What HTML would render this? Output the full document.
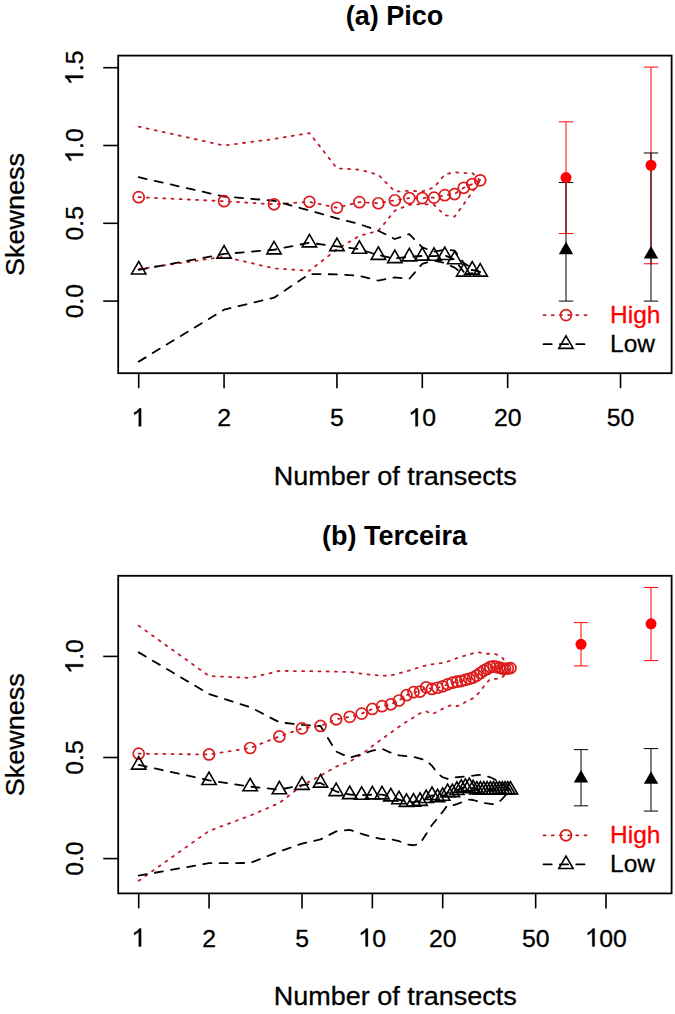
<!DOCTYPE html>
<html><head><meta charset="utf-8"><style>
html,body{margin:0;padding:0;background:#fff;}
body{width:675px;height:1014px;overflow:hidden;}
svg{display:block;}
text{font-family:"Liberation Sans",sans-serif;fill:#000;}
.tk{font-size:24.8px;stroke:#000;stroke-width:0.3px;}
.lab{font-size:27px;stroke:#000;stroke-width:0.3px;}
.ttl{font-size:27px;font-weight:bold;}
.leg{font-size:24.5px;stroke:#000;stroke-width:0.3px;}
</style></head><body>
<svg width="675" height="1014" viewBox="0 0 675 1014">
<rect width="675" height="1014" fill="#fff"/>
<rect x="118.2" y="55.6" width="553.4" height="317.59999999999997" fill="none" stroke="#000" stroke-width="1.8"/>
<line x1="138.70" y1="373.2" x2="138.70" y2="388.2" stroke="#000" stroke-width="1.6"/>
<g transform="translate(138.70 426.30)"><path transform="translate(-6.89 0) scale(24.8)" d="M0.377 0 L0.377 -0.724 L0.300 -0.724 Q0.245 -0.615 0.094 -0.558 L0.094 -0.462 Q0.215 -0.505 0.279 -0.59 L0.279 0 Z" fill="#000" stroke="#000" stroke-width="0.0121"/></g>
<line x1="224.07" y1="373.2" x2="224.07" y2="388.2" stroke="#000" stroke-width="1.6"/>
<g transform="translate(224.07 426.30)"><text x="-6.89" y="0" class="tk">2</text></g>
<line x1="336.93" y1="373.2" x2="336.93" y2="388.2" stroke="#000" stroke-width="1.6"/>
<g transform="translate(336.93 426.30)"><text x="-6.89" y="0" class="tk">5</text></g>
<line x1="422.30" y1="373.2" x2="422.30" y2="388.2" stroke="#000" stroke-width="1.6"/>
<g transform="translate(422.30 426.30)"><path transform="translate(-13.79 0) scale(24.8)" d="M0.377 0 L0.377 -0.724 L0.300 -0.724 Q0.245 -0.615 0.094 -0.558 L0.094 -0.462 Q0.215 -0.505 0.279 -0.59 L0.279 0 Z" fill="#000" stroke="#000" stroke-width="0.0121"/><text x="0.00" y="0" class="tk">0</text></g>
<line x1="507.67" y1="373.2" x2="507.67" y2="388.2" stroke="#000" stroke-width="1.6"/>
<g transform="translate(507.67 426.30)"><text x="-13.79" y="0" class="tk">2</text><text x="0.00" y="0" class="tk">0</text></g>
<line x1="620.53" y1="373.2" x2="620.53" y2="388.2" stroke="#000" stroke-width="1.6"/>
<g transform="translate(620.53 426.30)"><text x="-13.79" y="0" class="tk">5</text><text x="0.00" y="0" class="tk">0</text></g>
<line x1="118.2" y1="301.10" x2="103.2" y2="301.10" stroke="#000" stroke-width="1.6"/>
<g transform="translate(83.20 301.10) rotate(-90)"><text x="-17.24" y="0" class="tk">0</text><text x="-3.45" y="0" class="tk">.</text><text x="3.45" y="0" class="tk">0</text></g>
<line x1="118.2" y1="223.30" x2="103.2" y2="223.30" stroke="#000" stroke-width="1.6"/>
<g transform="translate(83.20 223.30) rotate(-90)"><text x="-17.24" y="0" class="tk">0</text><text x="-3.45" y="0" class="tk">.</text><text x="3.45" y="0" class="tk">5</text></g>
<line x1="118.2" y1="145.50" x2="103.2" y2="145.50" stroke="#000" stroke-width="1.6"/>
<g transform="translate(83.20 145.50) rotate(-90)"><path transform="translate(-17.24 0) scale(24.8)" d="M0.377 0 L0.377 -0.724 L0.300 -0.724 Q0.245 -0.615 0.094 -0.558 L0.094 -0.462 Q0.215 -0.505 0.279 -0.59 L0.279 0 Z" fill="#000" stroke="#000" stroke-width="0.0121"/><text x="-3.45" y="0" class="tk">.</text><text x="3.45" y="0" class="tk">0</text></g>
<line x1="118.2" y1="67.70" x2="103.2" y2="67.70" stroke="#000" stroke-width="1.6"/>
<g transform="translate(83.20 67.70) rotate(-90)"><path transform="translate(-17.24 0) scale(24.8)" d="M0.377 0 L0.377 -0.724 L0.300 -0.724 Q0.245 -0.615 0.094 -0.558 L0.094 -0.462 Q0.215 -0.505 0.279 -0.59 L0.279 0 Z" fill="#000" stroke="#000" stroke-width="0.0121"/><text x="-3.45" y="0" class="tk">.</text><text x="3.45" y="0" class="tk">5</text></g>
<text transform="translate(395.3 484.7) scale(1 0.95)" text-anchor="middle" class="lab">Number of transects</text>
<text transform="translate(24.2 214.60) rotate(-90) scale(1 0.96)" text-anchor="middle" class="lab">Skewness</text>
<text x="394.6" y="24.8" text-anchor="middle" class="ttl">(a) Pico</text>
<path d="M138.70 126.67 L224.07 145.50 L274.01 138.96 L309.44 133.05 L336.93 168.37 L359.38 169.62 L378.37 174.75 L394.82 191.56 L409.32 190.78 L422.30 191.40 L434.04 187.51 L444.76 174.44 L454.61 172.26 L463.74 173.04 L472.24 173.04 L480.19 180.35" fill="none" stroke="#c21a2a" stroke-width="1.8" stroke-dasharray="2.05 6.15" stroke-linejoin="round" stroke-linecap="round"/>
<path d="M138.70 269.05 L224.07 256.75 L274.01 268.42 L309.44 270.76 L336.93 249.29 L359.38 235.90 L378.37 230.77 L394.82 210.70 L409.32 204.78 L422.30 204.01 L434.04 204.78 L444.76 215.21 L454.61 216.61 L463.74 204.16 L472.24 192.18 L480.19 180.35" fill="none" stroke="#c21a2a" stroke-width="1.8" stroke-dasharray="2.05 6.15" stroke-linejoin="round" stroke-linecap="round"/>
<path d="M138.70 197.16 L224.07 201.20 L274.01 204.32 L309.44 201.83 L336.93 207.74 L359.38 202.14 L378.37 203.23 L394.82 200.27 L409.32 198.09 L422.30 198.09 L434.04 197.63 L444.76 195.14 L454.61 194.05 L463.74 187.82 L472.24 184.09 L480.19 180.35" fill="none" stroke="#c21a2a" stroke-width="1.8" stroke-dasharray="2.05 6.15" stroke-linejoin="round" stroke-linecap="round"/>
<path d="M138.70 177.24 L224.07 196.54 L274.01 200.74 L309.44 210.54 L336.93 218.32 L359.38 224.08 L378.37 230.77 L394.82 239.02 L409.32 234.04 L422.30 247.42 L434.04 251.62 L444.76 249.75 L454.61 250.53 L463.74 262.98 L472.24 268.42 L480.19 272.00" fill="none" stroke="#000" stroke-width="1.8" stroke-dasharray="8.2 8.2" stroke-linejoin="round" stroke-linecap="round"/>
<path d="M138.70 361.63 L224.07 309.66 L274.01 297.68 L309.44 274.03 L336.93 274.34 L359.38 275.89 L378.37 280.56 L394.82 277.45 L409.32 278.85 L422.30 263.76 L434.04 260.64 L444.76 262.98 L454.61 267.65 L463.74 274.65 L472.24 273.09 L480.19 272.00" fill="none" stroke="#000" stroke-width="1.8" stroke-dasharray="8.2 8.2" stroke-linejoin="round" stroke-linecap="round"/>
<path d="M138.70 269.82 L224.07 253.95 L274.01 249.75 L309.44 242.75 L336.93 246.48 L359.38 249.13 L378.37 255.20 L394.82 258.47 L409.32 256.75 L422.30 255.98 L434.04 256.13 L444.76 255.35 L454.61 259.55 L463.74 272.00 L472.24 269.98 L480.19 272.00" fill="none" stroke="#000" stroke-width="1.8" stroke-dasharray="8.2 8.2" stroke-linejoin="round" stroke-linecap="round"/>
<circle cx="138.70" cy="197.16" r="5.5" fill="none" stroke="#dc1c1c" stroke-width="1.7"/>
<circle cx="224.07" cy="201.20" r="5.5" fill="none" stroke="#dc1c1c" stroke-width="1.7"/>
<circle cx="274.01" cy="204.32" r="5.5" fill="none" stroke="#dc1c1c" stroke-width="1.7"/>
<circle cx="309.44" cy="201.83" r="5.5" fill="none" stroke="#dc1c1c" stroke-width="1.7"/>
<circle cx="336.93" cy="207.74" r="5.5" fill="none" stroke="#dc1c1c" stroke-width="1.7"/>
<circle cx="359.38" cy="202.14" r="5.5" fill="none" stroke="#dc1c1c" stroke-width="1.7"/>
<circle cx="378.37" cy="203.23" r="5.5" fill="none" stroke="#dc1c1c" stroke-width="1.7"/>
<circle cx="394.82" cy="200.27" r="5.5" fill="none" stroke="#dc1c1c" stroke-width="1.7"/>
<circle cx="409.32" cy="198.09" r="5.5" fill="none" stroke="#dc1c1c" stroke-width="1.7"/>
<circle cx="422.30" cy="198.09" r="5.5" fill="none" stroke="#dc1c1c" stroke-width="1.7"/>
<circle cx="434.04" cy="197.63" r="5.5" fill="none" stroke="#dc1c1c" stroke-width="1.7"/>
<circle cx="444.76" cy="195.14" r="5.5" fill="none" stroke="#dc1c1c" stroke-width="1.7"/>
<circle cx="454.61" cy="194.05" r="5.5" fill="none" stroke="#dc1c1c" stroke-width="1.7"/>
<circle cx="463.74" cy="187.82" r="5.5" fill="none" stroke="#dc1c1c" stroke-width="1.7"/>
<circle cx="472.24" cy="184.09" r="5.5" fill="none" stroke="#dc1c1c" stroke-width="1.7"/>
<circle cx="480.19" cy="180.35" r="5.5" fill="none" stroke="#dc1c1c" stroke-width="1.7"/>
<polygon points="138.70,261.52 145.89,273.97 131.51,273.97" fill="none" stroke="#000" stroke-width="1.6" stroke-linejoin="miter"/>
<polygon points="224.07,245.65 231.26,258.10 216.88,258.10" fill="none" stroke="#000" stroke-width="1.6" stroke-linejoin="miter"/>
<polygon points="274.01,241.45 281.20,253.90 266.82,253.90" fill="none" stroke="#000" stroke-width="1.6" stroke-linejoin="miter"/>
<polygon points="309.44,234.45 316.63,246.90 302.26,246.90" fill="none" stroke="#000" stroke-width="1.6" stroke-linejoin="miter"/>
<polygon points="336.93,238.18 344.12,250.63 329.74,250.63" fill="none" stroke="#000" stroke-width="1.6" stroke-linejoin="miter"/>
<polygon points="359.38,240.83 366.57,253.28 352.20,253.28" fill="none" stroke="#000" stroke-width="1.6" stroke-linejoin="miter"/>
<polygon points="378.37,246.90 385.56,259.35 371.18,259.35" fill="none" stroke="#000" stroke-width="1.6" stroke-linejoin="miter"/>
<polygon points="394.82,250.17 402.00,262.62 387.63,262.62" fill="none" stroke="#000" stroke-width="1.6" stroke-linejoin="miter"/>
<polygon points="409.32,248.45 416.51,260.90 402.14,260.90" fill="none" stroke="#000" stroke-width="1.6" stroke-linejoin="miter"/>
<polygon points="422.30,247.68 429.49,260.13 415.11,260.13" fill="none" stroke="#000" stroke-width="1.6" stroke-linejoin="miter"/>
<polygon points="434.04,247.83 441.23,260.28 426.85,260.28" fill="none" stroke="#000" stroke-width="1.6" stroke-linejoin="miter"/>
<polygon points="444.76,247.05 451.94,259.50 437.57,259.50" fill="none" stroke="#000" stroke-width="1.6" stroke-linejoin="miter"/>
<polygon points="454.61,251.25 461.80,263.70 447.43,263.70" fill="none" stroke="#000" stroke-width="1.6" stroke-linejoin="miter"/>
<polygon points="463.74,263.70 470.93,276.15 456.55,276.15" fill="none" stroke="#000" stroke-width="1.6" stroke-linejoin="miter"/>
<polygon points="472.24,261.68 479.43,274.13 465.05,274.13" fill="none" stroke="#000" stroke-width="1.6" stroke-linejoin="miter"/>
<polygon points="480.19,263.70 487.38,276.15 473.00,276.15" fill="none" stroke="#000" stroke-width="1.6" stroke-linejoin="miter"/>
<path d="M566.00 121.85 L566.00 233.57 M558.80 121.85 L573.20 121.85 M558.80 233.57 L573.20 233.57" stroke="#ff0000" stroke-width="1.0" fill="none"/>
<path d="M566.00 182.53 L566.00 301.10 M558.80 182.53 L573.20 182.53 M558.80 301.10 L573.20 301.10" stroke="#000" stroke-width="1.0" fill="none"/>
<circle cx="566.00" cy="177.55" r="5.5" fill="#ff0000"/>
<polygon points="566.00,241.76 573.19,254.21 558.81,254.21" fill="#000"/>
<path d="M651.00 67.08 L651.00 263.76 M643.80 67.08 L658.20 67.08 M643.80 263.76 L658.20 263.76" stroke="#ff0000" stroke-width="1.0" fill="none"/>
<path d="M651.00 152.97 L651.00 301.10 M643.80 152.97 L658.20 152.97 M643.80 301.10 L658.20 301.10" stroke="#000" stroke-width="1.0" fill="none"/>
<circle cx="651.00" cy="165.26" r="5.5" fill="#ff0000"/>
<polygon points="651.00,246.12 658.19,258.57 643.81,258.57" fill="#000"/>
<rect x="118.2" y="575.8000000000001" width="553.4" height="317.59999999999997" fill="none" stroke="#000" stroke-width="1.8"/>
<line x1="138.70" y1="893.4000000000001" x2="138.70" y2="908.4000000000001" stroke="#000" stroke-width="1.6"/>
<g transform="translate(138.70 946.50)"><path transform="translate(-6.89 0) scale(24.8)" d="M0.377 0 L0.377 -0.724 L0.300 -0.724 Q0.245 -0.615 0.094 -0.558 L0.094 -0.462 Q0.215 -0.505 0.279 -0.59 L0.279 0 Z" fill="#000" stroke="#000" stroke-width="0.0121"/></g>
<line x1="209.04" y1="893.4000000000001" x2="209.04" y2="908.4000000000001" stroke="#000" stroke-width="1.6"/>
<g transform="translate(209.04 946.50)"><text x="-6.89" y="0" class="tk">2</text></g>
<line x1="302.01" y1="893.4000000000001" x2="302.01" y2="908.4000000000001" stroke="#000" stroke-width="1.6"/>
<g transform="translate(302.01 946.50)"><text x="-6.89" y="0" class="tk">5</text></g>
<line x1="372.35" y1="893.4000000000001" x2="372.35" y2="908.4000000000001" stroke="#000" stroke-width="1.6"/>
<g transform="translate(372.35 946.50)"><path transform="translate(-13.79 0) scale(24.8)" d="M0.377 0 L0.377 -0.724 L0.300 -0.724 Q0.245 -0.615 0.094 -0.558 L0.094 -0.462 Q0.215 -0.505 0.279 -0.59 L0.279 0 Z" fill="#000" stroke="#000" stroke-width="0.0121"/><text x="0.00" y="0" class="tk">0</text></g>
<line x1="442.69" y1="893.4000000000001" x2="442.69" y2="908.4000000000001" stroke="#000" stroke-width="1.6"/>
<g transform="translate(442.69 946.50)"><text x="-13.79" y="0" class="tk">2</text><text x="0.00" y="0" class="tk">0</text></g>
<line x1="535.66" y1="893.4000000000001" x2="535.66" y2="908.4000000000001" stroke="#000" stroke-width="1.6"/>
<g transform="translate(535.66 946.50)"><text x="-13.79" y="0" class="tk">5</text><text x="0.00" y="0" class="tk">0</text></g>
<line x1="606.00" y1="893.4000000000001" x2="606.00" y2="908.4000000000001" stroke="#000" stroke-width="1.6"/>
<g transform="translate(606.00 946.50)"><path transform="translate(-20.68 0) scale(24.8)" d="M0.377 0 L0.377 -0.724 L0.300 -0.724 Q0.245 -0.615 0.094 -0.558 L0.094 -0.462 Q0.215 -0.505 0.279 -0.59 L0.279 0 Z" fill="#000" stroke="#000" stroke-width="0.0121"/><text x="-6.89" y="0" class="tk">0</text><text x="6.89" y="0" class="tk">0</text></g>
<line x1="118.2" y1="858.60" x2="103.2" y2="858.60" stroke="#000" stroke-width="1.6"/>
<g transform="translate(83.20 858.60) rotate(-90)"><text x="-17.24" y="0" class="tk">0</text><text x="-3.45" y="0" class="tk">.</text><text x="3.45" y="0" class="tk">0</text></g>
<line x1="118.2" y1="757.50" x2="103.2" y2="757.50" stroke="#000" stroke-width="1.6"/>
<g transform="translate(83.20 757.50) rotate(-90)"><text x="-17.24" y="0" class="tk">0</text><text x="-3.45" y="0" class="tk">.</text><text x="3.45" y="0" class="tk">5</text></g>
<line x1="118.2" y1="656.40" x2="103.2" y2="656.40" stroke="#000" stroke-width="1.6"/>
<g transform="translate(83.20 656.40) rotate(-90)"><path transform="translate(-17.24 0) scale(24.8)" d="M0.377 0 L0.377 -0.724 L0.300 -0.724 Q0.245 -0.615 0.094 -0.558 L0.094 -0.462 Q0.215 -0.505 0.279 -0.59 L0.279 0 Z" fill="#000" stroke="#000" stroke-width="0.0121"/><text x="-3.45" y="0" class="tk">.</text><text x="3.45" y="0" class="tk">0</text></g>
<text transform="translate(395.3 1004.9000000000001) scale(1 0.95)" text-anchor="middle" class="lab">Number of transects</text>
<text transform="translate(24.2 734.80) rotate(-90) scale(1 0.96)" text-anchor="middle" class="lab">Skewness</text>
<text x="394.6" y="545.0" text-anchor="middle" class="ttl">(b) Terceira</text>
<path d="M138.70 625.67 L209.04 676.03 L250.18 677.92 L279.37 670.91 L302.01 671.10 L320.52 671.36 L336.16 671.60 L349.71 672.02 L361.66 673.60 L372.35 674.93 L382.02 675.71 L390.85 675.55 L398.97 673.33 L406.49 671.27 L413.49 669.16 L420.04 667.18 L426.19 665.32 L431.99 664.31 L437.48 663.58 L442.69 662.88 L447.64 661.48 L452.36 659.81 L456.87 658.20 L461.19 656.79 L465.33 655.57 L469.31 654.40 L473.14 653.26 L476.83 652.17 L480.39 652.70 L483.83 653.24 L487.16 653.76 L490.38 653.77 L493.50 653.77 L496.53 654.39 L499.47 656.02 L502.33 657.83 L505.11 661.33 L507.82 664.74 L510.45 668.07" fill="none" stroke="#c21a2a" stroke-width="1.8" stroke-dasharray="2.05 6.15" stroke-linejoin="round" stroke-linecap="round"/>
<path d="M138.70 880.84 L209.04 830.90 L250.18 815.66 L279.37 802.98 L302.01 785.40 L320.52 775.69 L336.16 766.62 L349.71 761.73 L361.66 754.19 L372.35 746.05 L382.02 738.94 L390.85 732.63 L398.97 726.82 L406.49 721.85 L413.49 717.42 L420.04 713.27 L426.19 711.36 L431.99 714.10 L437.48 711.78 L442.69 708.74 L447.64 706.32 L452.36 704.90 L456.87 706.12 L461.19 705.11 L465.33 701.98 L469.31 700.22 L473.14 698.20 L476.83 694.87 L480.39 691.32 L483.83 686.21 L487.16 682.29 L490.38 678.84 L493.50 678.84 L496.53 678.84 L499.47 678.14 L502.33 677.06 L505.11 674.67 L507.82 671.38 L510.45 668.19" fill="none" stroke="#c21a2a" stroke-width="1.8" stroke-dasharray="2.05 6.15" stroke-linejoin="round" stroke-linecap="round"/>
<path d="M138.70 753.66 L209.04 754.47 L250.18 748.00 L279.37 736.47 L302.01 728.38 L320.52 725.96 L336.16 719.28 L349.71 716.86 L361.66 713.62 L372.35 708.97 L382.02 706.14 L390.85 704.32 L398.97 700.48 L406.49 695.22 L413.49 692.19 L420.04 691.58 L426.19 687.34 L431.99 688.95 L437.48 687.74 L442.69 686.33 L447.64 684.30 L452.36 682.69 L456.87 681.68 L461.19 681.07 L465.33 679.86 L469.31 678.84 L473.14 677.63 L476.83 675.61 L480.39 672.98 L483.83 670.55 L487.16 668.94 L490.38 666.91 L493.50 666.31 L496.53 666.91 L499.47 667.72 L502.33 668.53 L505.11 668.73 L507.82 668.53 L510.45 668.13" fill="none" stroke="#c21a2a" stroke-width="1.8" stroke-dasharray="2.05 6.15" stroke-linejoin="round" stroke-linecap="round"/>
<path d="M138.70 652.36 L209.04 694.02 L250.18 707.15 L279.37 722.30 L302.01 724.95 L320.52 725.98 L336.16 751.57 L349.71 757.77 L361.66 754.16 L372.35 750.60 L382.02 748.80 L390.85 752.71 L398.97 755.36 L406.49 756.13 L413.49 756.84 L420.04 758.61 L426.19 760.37 L431.99 765.82 L437.48 773.40 L442.69 777.27 L447.64 778.98 L452.36 777.99 L456.87 777.25 L461.19 776.83 L465.33 776.42 L469.31 776.03 L473.14 775.66 L476.83 775.13 L480.39 774.92 L483.83 775.67 L487.16 776.38 L490.38 777.28 L493.50 778.75 L496.53 780.37 L499.47 782.37 L502.33 784.31 L505.11 786.19 L507.82 788.03 L510.45 789.82" fill="none" stroke="#000" stroke-width="1.8" stroke-dasharray="8.2 8.2" stroke-linejoin="round" stroke-linecap="round"/>
<path d="M138.70 875.58 L209.04 863.22 L250.18 862.98 L279.37 851.48 L302.01 843.61 L320.52 839.42 L336.16 831.41 L349.71 829.80 L361.66 833.87 L372.35 837.01 L382.02 839.19 L390.85 839.19 L398.97 841.13 L406.49 844.32 L413.49 845.25 L420.04 843.63 L426.19 834.06 L431.99 825.04 L437.48 818.30 L442.69 811.83 L447.64 805.05 L452.36 805.56 L456.87 804.07 L461.19 802.50 L465.33 801.00 L469.31 799.55 L473.14 800.00 L476.83 801.14 L480.39 802.23 L483.83 802.99 L487.16 803.39 L490.38 803.78 L493.50 804.16 L496.53 803.71 L499.47 801.49 L502.33 798.79 L505.11 795.75 L507.82 792.79 L510.45 789.90" fill="none" stroke="#000" stroke-width="1.8" stroke-dasharray="8.2 8.2" stroke-linejoin="round" stroke-linecap="round"/>
<path d="M138.70 764.98 L209.04 780.35 L250.18 786.62 L279.37 789.65 L302.01 785.20 L320.52 782.98 L336.16 791.47 L349.71 794.50 L361.66 795.11 L372.35 794.70 L382.02 794.70 L390.85 796.73 L398.97 799.56 L406.49 802.19 L413.49 801.98 L420.04 801.18 L426.19 798.34 L431.99 795.31 L437.48 797.54 L442.69 796.12 L447.64 792.48 L452.36 792.48 L456.87 790.26 L461.19 788.03 L465.33 787.22 L469.31 786.41 L473.14 788.64 L476.83 789.85 L480.39 789.85 L483.83 789.85 L487.16 789.85 L490.38 789.85 L493.50 789.85 L496.53 789.85 L499.47 789.85 L502.33 789.85 L505.11 789.85 L507.82 789.85 L510.45 789.85" fill="none" stroke="#000" stroke-width="1.8" stroke-dasharray="8.2 8.2" stroke-linejoin="round" stroke-linecap="round"/>
<circle cx="138.70" cy="753.66" r="5.5" fill="none" stroke="#dc1c1c" stroke-width="1.7"/>
<circle cx="209.04" cy="754.47" r="5.5" fill="none" stroke="#dc1c1c" stroke-width="1.7"/>
<circle cx="250.18" cy="748.00" r="5.5" fill="none" stroke="#dc1c1c" stroke-width="1.7"/>
<circle cx="279.37" cy="736.47" r="5.5" fill="none" stroke="#dc1c1c" stroke-width="1.7"/>
<circle cx="302.01" cy="728.38" r="5.5" fill="none" stroke="#dc1c1c" stroke-width="1.7"/>
<circle cx="320.52" cy="725.96" r="5.5" fill="none" stroke="#dc1c1c" stroke-width="1.7"/>
<circle cx="336.16" cy="719.28" r="5.5" fill="none" stroke="#dc1c1c" stroke-width="1.7"/>
<circle cx="349.71" cy="716.86" r="5.5" fill="none" stroke="#dc1c1c" stroke-width="1.7"/>
<circle cx="361.66" cy="713.62" r="5.5" fill="none" stroke="#dc1c1c" stroke-width="1.7"/>
<circle cx="372.35" cy="708.97" r="5.5" fill="none" stroke="#dc1c1c" stroke-width="1.7"/>
<circle cx="382.02" cy="706.14" r="5.5" fill="none" stroke="#dc1c1c" stroke-width="1.7"/>
<circle cx="390.85" cy="704.32" r="5.5" fill="none" stroke="#dc1c1c" stroke-width="1.7"/>
<circle cx="398.97" cy="700.48" r="5.5" fill="none" stroke="#dc1c1c" stroke-width="1.7"/>
<circle cx="406.49" cy="695.22" r="5.5" fill="none" stroke="#dc1c1c" stroke-width="1.7"/>
<circle cx="413.49" cy="692.19" r="5.5" fill="none" stroke="#dc1c1c" stroke-width="1.7"/>
<circle cx="420.04" cy="691.58" r="5.5" fill="none" stroke="#dc1c1c" stroke-width="1.7"/>
<circle cx="426.19" cy="687.34" r="5.5" fill="none" stroke="#dc1c1c" stroke-width="1.7"/>
<circle cx="431.99" cy="688.95" r="5.5" fill="none" stroke="#dc1c1c" stroke-width="1.7"/>
<circle cx="437.48" cy="687.74" r="5.5" fill="none" stroke="#dc1c1c" stroke-width="1.7"/>
<circle cx="442.69" cy="686.33" r="5.5" fill="none" stroke="#dc1c1c" stroke-width="1.7"/>
<circle cx="447.64" cy="684.30" r="5.5" fill="none" stroke="#dc1c1c" stroke-width="1.7"/>
<circle cx="452.36" cy="682.69" r="5.5" fill="none" stroke="#dc1c1c" stroke-width="1.7"/>
<circle cx="456.87" cy="681.68" r="5.5" fill="none" stroke="#dc1c1c" stroke-width="1.7"/>
<circle cx="461.19" cy="681.07" r="5.5" fill="none" stroke="#dc1c1c" stroke-width="1.7"/>
<circle cx="465.33" cy="679.86" r="5.5" fill="none" stroke="#dc1c1c" stroke-width="1.7"/>
<circle cx="469.31" cy="678.84" r="5.5" fill="none" stroke="#dc1c1c" stroke-width="1.7"/>
<circle cx="473.14" cy="677.63" r="5.5" fill="none" stroke="#dc1c1c" stroke-width="1.7"/>
<circle cx="476.83" cy="675.61" r="5.5" fill="none" stroke="#dc1c1c" stroke-width="1.7"/>
<circle cx="480.39" cy="672.98" r="5.5" fill="none" stroke="#dc1c1c" stroke-width="1.7"/>
<circle cx="483.83" cy="670.55" r="5.5" fill="none" stroke="#dc1c1c" stroke-width="1.7"/>
<circle cx="487.16" cy="668.94" r="5.5" fill="none" stroke="#dc1c1c" stroke-width="1.7"/>
<circle cx="490.38" cy="666.91" r="5.5" fill="none" stroke="#dc1c1c" stroke-width="1.7"/>
<circle cx="493.50" cy="666.31" r="5.5" fill="none" stroke="#dc1c1c" stroke-width="1.7"/>
<circle cx="496.53" cy="666.91" r="5.5" fill="none" stroke="#dc1c1c" stroke-width="1.7"/>
<circle cx="499.47" cy="667.72" r="5.5" fill="none" stroke="#dc1c1c" stroke-width="1.7"/>
<circle cx="502.33" cy="668.53" r="5.5" fill="none" stroke="#dc1c1c" stroke-width="1.7"/>
<circle cx="505.11" cy="668.73" r="5.5" fill="none" stroke="#dc1c1c" stroke-width="1.7"/>
<circle cx="507.82" cy="668.53" r="5.5" fill="none" stroke="#dc1c1c" stroke-width="1.7"/>
<circle cx="510.45" cy="668.13" r="5.5" fill="none" stroke="#dc1c1c" stroke-width="1.7"/>
<polygon points="138.70,756.68 145.89,769.13 131.51,769.13" fill="none" stroke="#000" stroke-width="1.6" stroke-linejoin="miter"/>
<polygon points="209.04,772.05 216.22,784.50 201.85,784.50" fill="none" stroke="#000" stroke-width="1.6" stroke-linejoin="miter"/>
<polygon points="250.18,778.32 257.37,790.77 242.99,790.77" fill="none" stroke="#000" stroke-width="1.6" stroke-linejoin="miter"/>
<polygon points="279.37,781.35 286.56,793.80 272.18,793.80" fill="none" stroke="#000" stroke-width="1.6" stroke-linejoin="miter"/>
<polygon points="302.01,776.90 309.20,789.35 294.83,789.35" fill="none" stroke="#000" stroke-width="1.6" stroke-linejoin="miter"/>
<polygon points="320.52,774.68 327.70,787.13 313.33,787.13" fill="none" stroke="#000" stroke-width="1.6" stroke-linejoin="miter"/>
<polygon points="336.16,783.17 343.35,795.62 328.97,795.62" fill="none" stroke="#000" stroke-width="1.6" stroke-linejoin="miter"/>
<polygon points="349.71,786.20 356.89,798.65 342.52,798.65" fill="none" stroke="#000" stroke-width="1.6" stroke-linejoin="miter"/>
<polygon points="361.66,786.81 368.85,799.26 354.47,799.26" fill="none" stroke="#000" stroke-width="1.6" stroke-linejoin="miter"/>
<polygon points="372.35,786.40 379.54,798.85 365.16,798.85" fill="none" stroke="#000" stroke-width="1.6" stroke-linejoin="miter"/>
<polygon points="382.02,786.40 389.21,798.85 374.83,798.85" fill="none" stroke="#000" stroke-width="1.6" stroke-linejoin="miter"/>
<polygon points="390.85,788.43 398.04,800.88 383.66,800.88" fill="none" stroke="#000" stroke-width="1.6" stroke-linejoin="miter"/>
<polygon points="398.97,791.26 406.16,803.71 391.78,803.71" fill="none" stroke="#000" stroke-width="1.6" stroke-linejoin="miter"/>
<polygon points="406.49,793.89 413.68,806.34 399.30,806.34" fill="none" stroke="#000" stroke-width="1.6" stroke-linejoin="miter"/>
<polygon points="413.49,793.68 420.68,806.13 406.31,806.13" fill="none" stroke="#000" stroke-width="1.6" stroke-linejoin="miter"/>
<polygon points="420.04,792.88 427.23,805.33 412.85,805.33" fill="none" stroke="#000" stroke-width="1.6" stroke-linejoin="miter"/>
<polygon points="426.19,790.04 433.38,802.49 419.01,802.49" fill="none" stroke="#000" stroke-width="1.6" stroke-linejoin="miter"/>
<polygon points="431.99,787.01 439.18,799.46 424.81,799.46" fill="none" stroke="#000" stroke-width="1.6" stroke-linejoin="miter"/>
<polygon points="437.48,789.24 444.67,801.69 430.29,801.69" fill="none" stroke="#000" stroke-width="1.6" stroke-linejoin="miter"/>
<polygon points="442.69,787.82 449.87,800.27 435.50,800.27" fill="none" stroke="#000" stroke-width="1.6" stroke-linejoin="miter"/>
<polygon points="447.64,784.18 454.82,796.63 440.45,796.63" fill="none" stroke="#000" stroke-width="1.6" stroke-linejoin="miter"/>
<polygon points="452.36,784.18 459.55,796.63 445.17,796.63" fill="none" stroke="#000" stroke-width="1.6" stroke-linejoin="miter"/>
<polygon points="456.87,781.96 464.06,794.41 449.68,794.41" fill="none" stroke="#000" stroke-width="1.6" stroke-linejoin="miter"/>
<polygon points="461.19,779.73 468.37,792.18 454.00,792.18" fill="none" stroke="#000" stroke-width="1.6" stroke-linejoin="miter"/>
<polygon points="465.33,778.92 472.52,791.37 458.14,791.37" fill="none" stroke="#000" stroke-width="1.6" stroke-linejoin="miter"/>
<polygon points="469.31,778.11 476.50,790.56 462.12,790.56" fill="none" stroke="#000" stroke-width="1.6" stroke-linejoin="miter"/>
<polygon points="473.14,780.34 480.33,792.79 465.95,792.79" fill="none" stroke="#000" stroke-width="1.6" stroke-linejoin="miter"/>
<polygon points="476.83,781.55 484.02,794.00 469.64,794.00" fill="none" stroke="#000" stroke-width="1.6" stroke-linejoin="miter"/>
<polygon points="480.39,781.55 487.58,794.00 473.20,794.00" fill="none" stroke="#000" stroke-width="1.6" stroke-linejoin="miter"/>
<polygon points="483.83,781.55 491.02,794.00 476.64,794.00" fill="none" stroke="#000" stroke-width="1.6" stroke-linejoin="miter"/>
<polygon points="487.16,781.55 494.34,794.00 479.97,794.00" fill="none" stroke="#000" stroke-width="1.6" stroke-linejoin="miter"/>
<polygon points="490.38,781.55 497.57,794.00 483.19,794.00" fill="none" stroke="#000" stroke-width="1.6" stroke-linejoin="miter"/>
<polygon points="493.50,781.55 500.69,794.00 486.31,794.00" fill="none" stroke="#000" stroke-width="1.6" stroke-linejoin="miter"/>
<polygon points="496.53,781.55 503.72,794.00 489.34,794.00" fill="none" stroke="#000" stroke-width="1.6" stroke-linejoin="miter"/>
<polygon points="499.47,781.55 506.66,794.00 492.28,794.00" fill="none" stroke="#000" stroke-width="1.6" stroke-linejoin="miter"/>
<polygon points="502.33,781.55 509.52,794.00 495.14,794.00" fill="none" stroke="#000" stroke-width="1.6" stroke-linejoin="miter"/>
<polygon points="505.11,781.55 512.30,794.00 497.92,794.00" fill="none" stroke="#000" stroke-width="1.6" stroke-linejoin="miter"/>
<polygon points="507.82,781.55 515.00,794.00 500.63,794.00" fill="none" stroke="#000" stroke-width="1.6" stroke-linejoin="miter"/>
<polygon points="510.45,781.55 517.64,794.00 503.26,794.00" fill="none" stroke="#000" stroke-width="1.6" stroke-linejoin="miter"/>
<path d="M581.00 622.63 L581.00 665.90 M573.80 622.63 L588.20 622.63 M573.80 665.90 L588.20 665.90" stroke="#ff0000" stroke-width="1.0" fill="none"/>
<path d="M581.00 749.61 L581.00 805.83 M573.80 749.61 L588.20 749.61 M573.80 805.83 L588.20 805.83" stroke="#000" stroke-width="1.0" fill="none"/>
<circle cx="581.00" cy="644.27" r="5.5" fill="#ff0000"/>
<polygon points="581.00,770.03 588.19,782.48 573.81,782.48" fill="#000"/>
<path d="M651.00 587.45 L651.00 660.65 M643.80 587.45 L658.20 587.45 M643.80 660.65 L658.20 660.65" stroke="#ff0000" stroke-width="1.0" fill="none"/>
<path d="M651.00 748.60 L651.00 811.08 M643.80 748.60 L658.20 748.60 M643.80 811.08 L658.20 811.08" stroke="#000" stroke-width="1.0" fill="none"/>
<circle cx="651.00" cy="623.85" r="5.5" fill="#ff0000"/>
<polygon points="651.00,771.24 658.19,783.69 643.81,783.69" fill="#000"/>
<path d="M543.5 315.1 L588 315.1" stroke="#c21a2a" stroke-width="1.8" stroke-dasharray="2.05 6.15" stroke-linecap="round" fill="none"/>
<circle cx="566.00" cy="315.10" r="5.5" fill="none" stroke="#dc1c1c" stroke-width="1.7"/>
<path d="M543.5 344.2 L588 344.2" stroke="#000" stroke-width="1.8" stroke-dasharray="8.2 8.2" stroke-linecap="round" fill="none"/>
<polygon points="566.00,335.90 573.19,348.35 558.81,348.35" fill="none" stroke="#000" stroke-width="1.6" stroke-linejoin="miter"/>
<text x="610.1" y="323.0" class="leg" style="fill:#ff0000;stroke:#ff0000">High</text>
<text x="610.1" y="352.0" class="leg">Low</text>
<path d="M543.5 835.3000000000001 L588 835.3000000000001" stroke="#c21a2a" stroke-width="1.8" stroke-dasharray="2.05 6.15" stroke-linecap="round" fill="none"/>
<circle cx="566.00" cy="835.30" r="5.5" fill="none" stroke="#dc1c1c" stroke-width="1.7"/>
<path d="M543.5 864.4000000000001 L588 864.4000000000001" stroke="#000" stroke-width="1.8" stroke-dasharray="8.2 8.2" stroke-linecap="round" fill="none"/>
<polygon points="566.00,856.10 573.19,868.55 558.81,868.55" fill="none" stroke="#000" stroke-width="1.6" stroke-linejoin="miter"/>
<text x="610.1" y="843.2" class="leg" style="fill:#ff0000;stroke:#ff0000">High</text>
<text x="610.1" y="872.2" class="leg">Low</text>
</svg>
</body></html>
